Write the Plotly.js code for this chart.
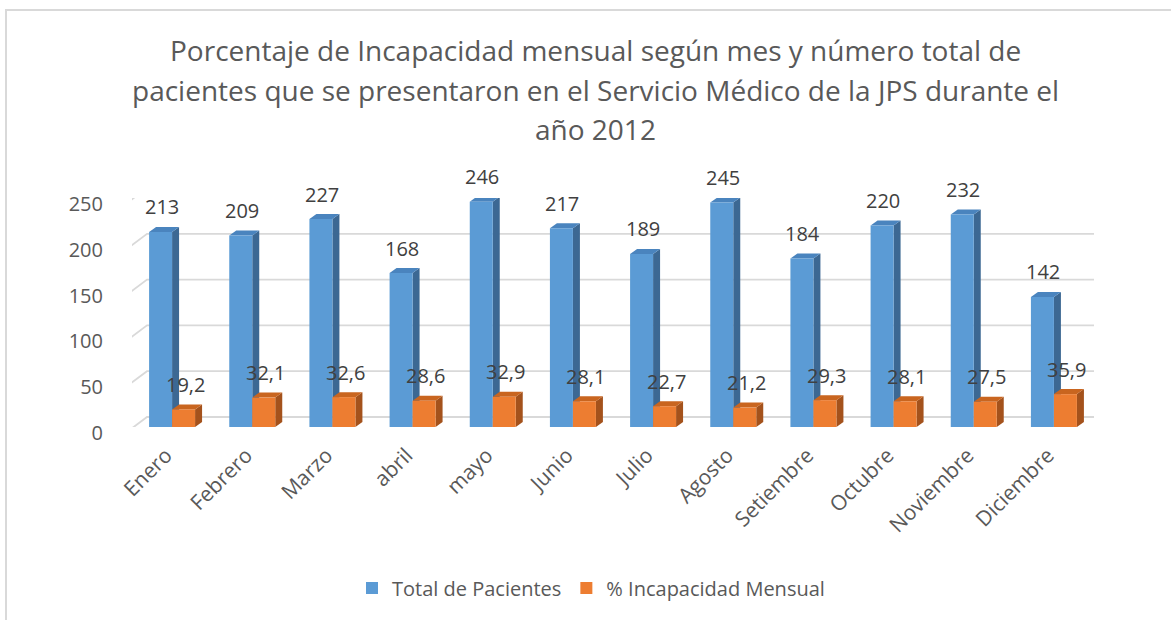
<!DOCTYPE html>
<html>
<head>
<meta charset="utf-8">
<script src="https://cdn.plot.ly/plotly-3.0.1.min.js"></script>
<style>
  html, body { margin: 0; padding: 0; background: #fff; }
  #wrap { position: relative; width: 1171px; height: 620px; overflow: hidden; }
  #plot { width: 1171px; height: 620px; }
  #frame { position: absolute; left: 5px; top: 9px; width: 1200px; height: 700px;
           border: 2px solid #D9D9D9; pointer-events: none; box-sizing: border-box; }
</style>
</head>
<body>
<div id="wrap"><div id="plot"></div><div id="frame"></div></div>
<script>
// ---- data ----
const months = ["Enero", "Febrero", "Marzo", "abril", "mayo", "Junio", "Julio",
                "Agosto", "Setiembre", "Octubre", "Noviembre", "Diciembre"];
const totalPacientes = [213, 209, 227, 168, 246, 217, 189, 245, 184, 220, 232, 142];
const pctIncapacidad = [19.2, 32.1, 32.6, 28.6, 32.9, 28.1, 22.7, 21.2, 29.3, 28.1, 27.5, 35.9];
const yTicks = [0, 50, 100, 150, 200, 250];
const titleLines = [
  "Porcentaje de Incapacidad mensual según mes y número total de",
  "pacientes que se presentaron en el Servicio Médico de la JPS durante el",
  "año 2012"
];

// ---- geometry / style ----
const W = 1171, H = 620;
const mL = 132, mR = 77, mT = 198, mB = 193;
const plotW = W - mL - mR, plotH = H - mT - mB;
const yMax = 250;
const pxPerCat = plotW / 12;
const barW = 0.2868;
const barPx = barW * pxPerCat;
const depthX = 7, depthYpx = 5;
const depthY = depthYpx * yMax / plotH;

const blue = "#5B9BD5", blueSide = "#3C6893", blueTop = "#4A84BE";
const orange = "#ED7D31", orangeSide = "#A4521C", orangeTop = "#C9651F";
const txt = "#404040", axTxt = "#595959";
const FONT = "Open Sans, sans-serif";

const idx = months.map((_, i) => i);
const fmt = v => v.toFixed(1).replace(".", ",");

const traces = [
  { type: "bar", name: "Total de Pacientes", x: idx, y: totalPacientes,
    width: barW, offset: -barW, marker: { color: blue }, hoverinfo: "y" },
  { type: "bar", name: "% Incapacidad Mensual", x: idx, y: pctIncapacidad,
    width: barW, offset: 0, marker: { color: orange }, hoverinfo: "y" }
];

const shapes = [];
// back-wall gridlines with floor diagonal
yTicks.forEach(v => {
  shapes.push({ type: "path", layer: "below",
    xref: "x", xsizemode: "pixel", xanchor: -0.5,
    yref: "y", ysizemode: "pixel", yanchor: v,
    path: `M -5,-5 L 15,10 L ${plotW + 16},10`,
    line: { color: "#D9D9D9", width: 1.8 } });
});
// 3D faces
function faces(vals, startPx, side, top) {
  vals.forEach((v, i) => {
    const a = startPx, b = startPx + barPx;
    shapes.push({ type: "path", layer: "between",
      xref: "x", xsizemode: "pixel", xanchor: i, yref: "y",
      path: `M ${b},0 L ${b + depthX},${depthY} L ${b + depthX},${v + depthY} L ${b},${v} Z`,
      fillcolor: side, line: { width: 0 } });
    shapes.push({ type: "path", layer: "between",
      xref: "x", xsizemode: "pixel", xanchor: i, yref: "y",
      path: `M ${a},${v} L ${a + depthX},${v + depthY} L ${b + depthX},${v + depthY} L ${b},${v} Z`,
      fillcolor: top, line: { width: 0 } });
  });
}
faces(totalPacientes, -barPx, blueSide, blueTop);
faces(pctIncapacidad, 0, orangeSide, orangeTop);

const annotations = [];
totalPacientes.forEach((v, i) => annotations.push({
  x: i, y: v, xref: "x", yref: "y", text: String(v), showarrow: false,
  xshift: -10.5, yshift: 25, font: { family: FONT, size: 20, color: txt } }));
pctIncapacidad.forEach((v, i) => annotations.push({
  x: i, y: v, xref: "x", yref: "y", text: fmt(v), showarrow: false,
  xshift: 13, yshift: 25, font: { family: FONT, size: 20, color: txt } }));
// title lines
const titleY = [50, 90, 129];
titleLines.forEach((t, k) => annotations.push({
  xref: "paper", yref: "paper", x: (595 - mL) / plotW, y: (H - mB - titleY[k]) / plotH,
  xanchor: "center", yanchor: "middle", text: t, showarrow: false,
  font: { family: FONT, size: 28, color: axTxt } }));

const layout = {
  width: W, height: H,
  margin: { l: mL, r: mR, t: mT, b: mB, pad: 0 },
  paper_bgcolor: "#fff", plot_bgcolor: "rgba(0,0,0,0)",
  barmode: "overlay",
  showlegend: true,
  legend: { orientation: "h", x: (591 - mL) / plotW, xanchor: "center",
            y: (H - mB - 588) / plotH, yanchor: "middle",
            font: { family: FONT, size: 20, color: axTxt } },
  xaxis: { range: [-0.5, 11.5], tickvals: idx, ticktext: months, tickangle: -45,
           showgrid: false, zeroline: false, showline: false, ticks: "",
           ticklabelstandoff: 11, ticklabelshift: -6,
           tickfont: { family: FONT, size: 21, color: axTxt } },
  yaxis: { range: [0, yMax], tickvals: yTicks, showgrid: false, zeroline: false,
           showline: false, ticks: "", ticklabelstandoff: 28, ticklabelshift: 6,
           tickfont: { family: FONT, size: 20, color: axTxt } },
  shapes: shapes,
  annotations: annotations
};

Plotly.newPlot("plot", traces, layout, { displayModeBar: false, staticPlot: true });
</script>
</body>
</html>
